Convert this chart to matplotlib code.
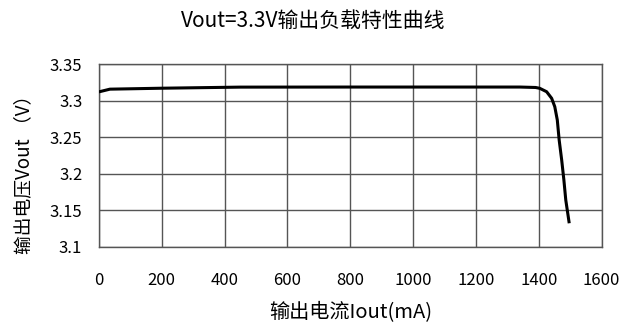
import numpy as np
import matplotlib.pyplot as plt

plt.rcParams['font.family'] = ['Noto Sans CJK SC', 'DejaVu Sans']

# 负载电流 (mA) 与输出电压 (V)
iout = [0, 35, 200, 450, 800, 1200, 1340, 1390, 1403, 1425, 1441, 1451,
        1459, 1465, 1473, 1480, 1486, 1497]
vout = [3.3122, 3.3159, 3.3172, 3.3187, 3.3188, 3.3188, 3.3188, 3.3182,
        3.3171, 3.3124, 3.3034, 3.2919, 3.2737, 3.2462, 3.2188, 3.1914,
        3.1640, 3.1321]

xticks = [0, 200, 400, 600, 800, 1000, 1200, 1400, 1600]
yticks = [3.1, 3.15, 3.2, 3.25, 3.3, 3.35]
ytick_labels = ['3.1', '3.15', '3.2', '3.25', '3.3', '3.35']

fig = plt.figure(figsize=(6.26, 3.24), dpi=100)
ax = fig.add_axes([0.158, 0.2386, 0.803, 0.563])

ax.plot(iout, vout, color='black', linewidth=2.2, solid_capstyle='butt',
        solid_joinstyle='round', zorder=3)

ax.set_xlim(0, 1600)
ax.set_ylim(3.1, 3.35)
ax.set_xticks(xticks)
ax.set_yticks(yticks)
ax.set_yticklabels(ytick_labels)
ax.grid(True, color='#555555', linewidth=1.0)
for s in ax.spines.values():
    s.set_color('#555555')
    s.set_linewidth(1.0)
ax.tick_params(length=0, labelsize=12)
ax.tick_params(axis='x', pad=18)
ax.tick_params(axis='y', pad=12)

fig.suptitle('Vout=3.3V输出负载特性曲线', fontsize=15, y=0.97)
ax.set_xlabel('输出电流Iout(mA)', fontsize=14.5, labelpad=10)
ax.set_ylabel('输出电压Vout （V）', fontsize=13.5, labelpad=8)
ax.yaxis.set_label_coords(-0.128, 0.42)

fig.savefig('out.png', dpi=100, facecolor='white')
